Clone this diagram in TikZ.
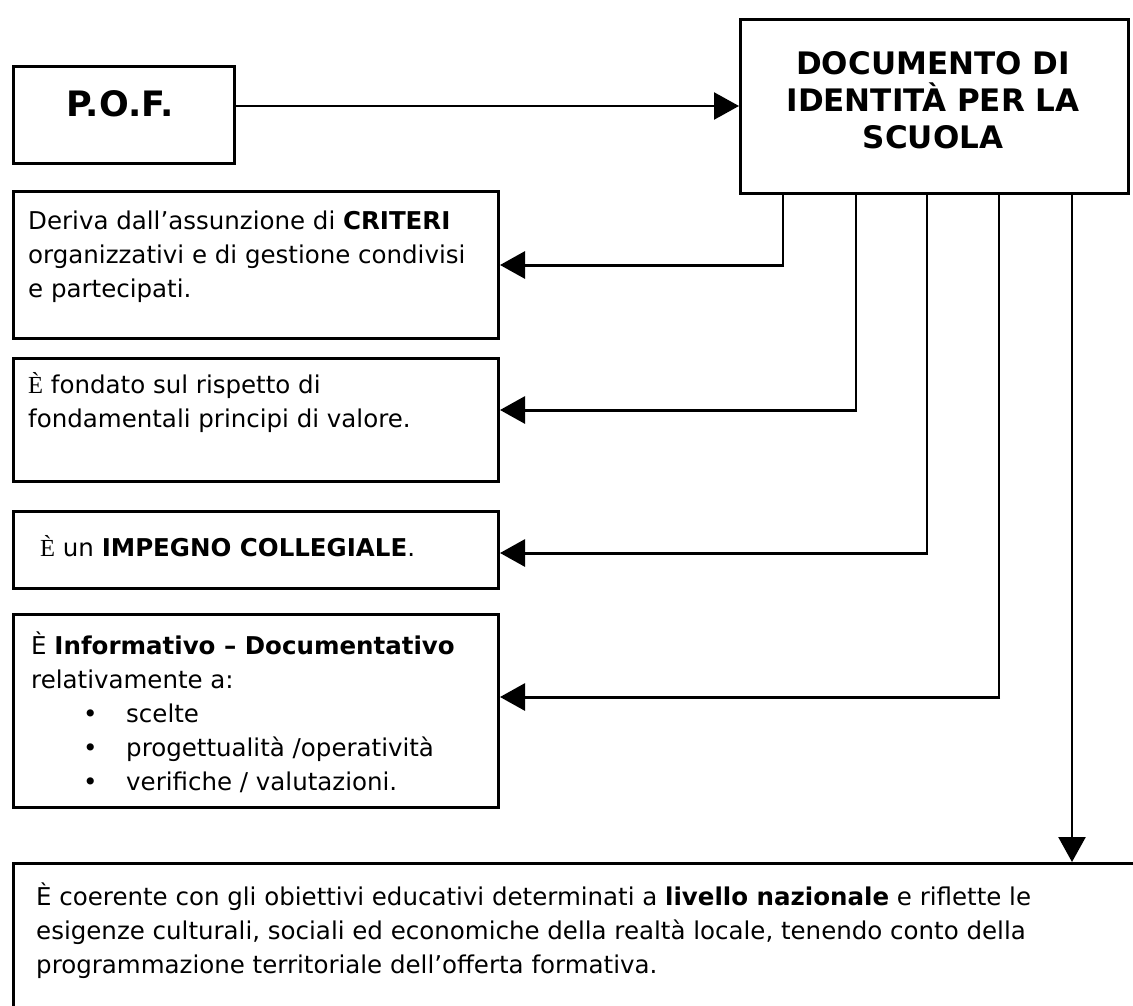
\documentclass[tikz,border=0pt]{standalone}
\usepackage{fontspec}
\setmainfont{DejaVu Sans}
\newfontfamily\serifE{Liberation Serif}
\usetikzlibrary{arrows.meta}
\begin{document}
\begin{tikzpicture}[x=1pt,y=-1pt,
  box/.style={draw, line width=3pt, rectangle, inner sep=0pt, anchor=north west},
  body/.style={anchor=north west, inner sep=0pt, align=left, font=\fontsize{24.5}{34}\selectfont},
  link/.style={line width=2pt},
  feed/.style={line width=3pt, -{Triangle[length=25pt,width=27pt]}},
]
\useasboundingbox (0,0) rectangle (1133,1006);
\fill[white] (0,0) rectangle (1133,1006);
\clip (0,0) rectangle (1133,1006);

% boxes
\node[box, minimum width=221pt, minimum height=97pt] (pof) at (12,65) {};
\node[box, minimum width=388pt, minimum height=174pt] (doc) at (739,18) {};
\node[box, minimum width=485pt, minimum height=147pt] (b1) at (12,190) {};
\node[box, minimum width=485pt, minimum height=123pt] (b2) at (12,357) {};
\node[box, minimum width=485pt, minimum height=77pt] (b3) at (12,510) {};
\node[box, minimum width=485pt, minimum height=193pt] (b4) at (12,613) {};
\node[box, minimum width=1140pt, minimum height=170pt] (b5) at (12,862) {};

% texts
\node[inner sep=0pt, font=\fontsize{35}{40}\selectfont\bfseries] (pofT) at (120,104) {P.O.F.};
\node[inner sep=0pt, align=center, font=\fontsize{31}{37}\selectfont\bfseries] (docT) at (933,100)
  {DOCUMENTO DI\\IDENTITÀ PER LA\\SCUOLA};
\node[body] (t1) at (28,205) {\strut Deriva dall’assunzione di \textbf{CRITERI}\\organizzativi e di gestione condivisi\\e partecipati.};
\node[body] (t2) at (28,369) {\strut{\serifE È} fondato sul rispetto di\\fondamentali principi di valore.};
\node[body] (t3) at (40,532) {\strut{\serifE È} un \textbf{IMPEGNO COLLEGIALE}.};
\node[body] (t4) at (31,630) {\strut È \textbf{Informativo – Documentativo}\\relativamente a:\\
  \hspace*{52pt}\makebox[43pt][l]{\textbullet}scelte\\
  \hspace*{52pt}\makebox[43pt][l]{\textbullet}progettualità /operatività\\
  \hspace*{52pt}\makebox[43pt][l]{\textbullet}verifiche / valutazioni.};
\node[body] (t5) at (36,881) {\strut È coerente con gli obiettivi educativi determinati a \textbf{livello nazionale} e riflette le\\esigenze culturali, sociali ed economiche della realtà locale, tenendo conto della\\programmazione territoriale dell’offerta formativa.};

% connector coordinates
\coordinate (a0) at (0,106);
\coordinate (v1) at (783,265);
\coordinate (v2) at (856,410);
\coordinate (v3) at (927,553);
\coordinate (v4) at (999,697);
\coordinate (v5) at (1072,862);

\draw[feed, line width=2.5pt] (pof.east |- a0) -- (doc.west |- a0);
\draw[link] (doc.south -| v1) -- ([yshift=1pt]v1);
\draw[feed] ([xshift=1pt]v1) -- (b1.east |- v1);
\draw[link] (doc.south -| v2) -- ([yshift=1pt]v2);
\draw[feed] ([xshift=1pt]v2) -- (b2.east |- v2);
\draw[link] (doc.south -| v3) -- ([yshift=1pt]v3);
\draw[feed] ([xshift=1pt]v3) -- (b3.east |- v3);
\draw[link] (doc.south -| v4) -- ([yshift=1pt]v4);
\draw[feed] ([xshift=1pt]v4) -- (b4.east |- v4);
\draw[feed, line width=2.5pt] (doc.south -| v5) -- (b5.north -| v5);
\end{tikzpicture}
\end{document}
